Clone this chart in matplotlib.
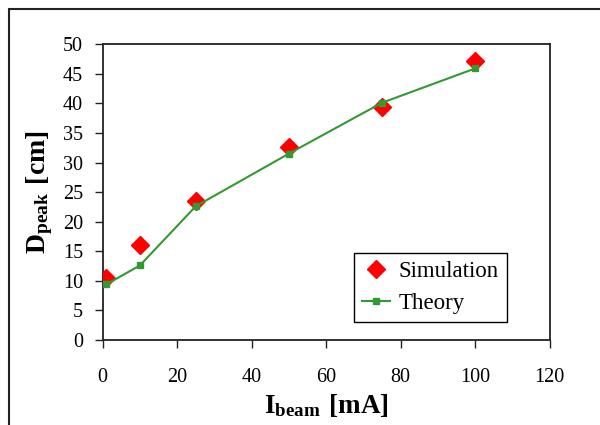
import matplotlib
matplotlib.use("Agg")
import matplotlib.pyplot as plt
from matplotlib.patches import Rectangle

plt.rcParams['font.family'] = ['Liberation Serif', 'DejaVu Serif']
plt.rcParams['mathtext.fontset'] = 'custom'
plt.rcParams['mathtext.rm'] = 'Liberation Serif'
plt.rcParams['mathtext.bf'] = 'Liberation Serif:bold'

current = [1, 10, 25, 50, 75, 100]
simulation = [10.5, 16.0, 23.5, 32.7, 39.4, 47.1]
theory = [9.4, 12.6, 22.6, 31.5, 40.1, 45.9]

fig = plt.figure(figsize=(6, 4.25), dpi=100)
ax = fig.add_axes([0.171, 0.2, 0.745, 0.696])

ax.plot(current, simulation, linestyle='none', marker='D', color='#ff0000',
        markersize=9.5, label='Simulation', zorder=3)
ax.plot(current, theory, color='#339933', marker='s', markersize=5,
        linewidth=1.5, label='Theory', zorder=4)

ax.set_xlim(0, 120)
ax.set_ylim(0, 50)
ax.set_xticks(range(0, 121, 20))
ax.set_yticks(range(0, 51, 5))
ax.tick_params(direction='out', length=6, width=1, labelsize=14.5, color='#222222')
ax.tick_params(axis='x', pad=14)
ax.tick_params(axis='y', pad=8)
for s in ax.spines.values():
    s.set_linewidth(1.3)
    s.set_color('#222222')

ax.set_xlabel(r'$\mathbf{I_{beam}\ [mA]}$', fontsize=19.5, labelpad=4)
ax.set_ylabel(r'$\mathbf{D_{peak}\ [cm]}$', fontsize=20, labelpad=6)

leg = ax.legend(loc='lower right', bbox_to_anchor=(0.905, 0.06), fontsize=16.5,
                fancybox=False, framealpha=1, edgecolor='black',
                handlelength=1.2, borderpad=0.35, handletextpad=0.4,
                labelspacing=0.5, borderaxespad=0)
leg.get_frame().set_linewidth(1.0)

# outer chart border
fig.add_artist(Rectangle((9 / 600, -0.1), 1.0, 1 - 9 / 425 + 0.1,
                         transform=fig.transFigure, fill=False,
                         edgecolor='#222222', linewidth=1.5, clip_on=False))

fig.savefig('out.png', dpi=100)
